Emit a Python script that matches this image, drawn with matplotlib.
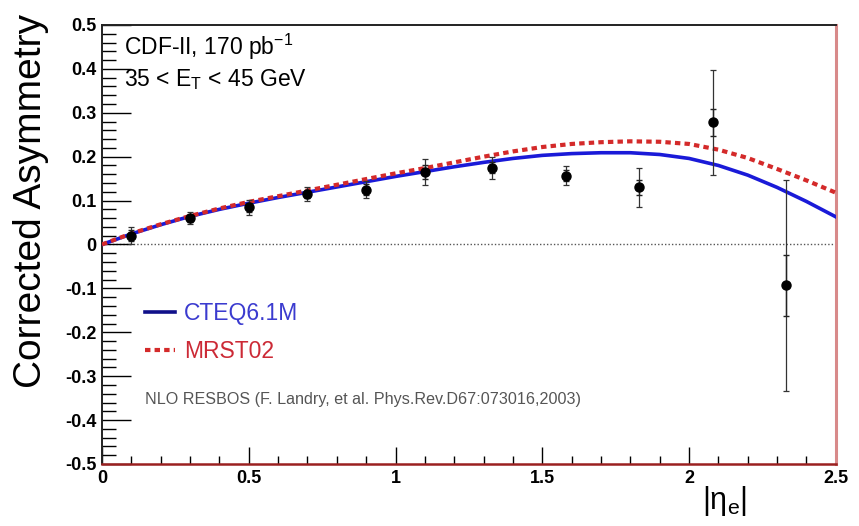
import numpy as np
import matplotlib
matplotlib.use('Agg')
import matplotlib.pyplot as plt
from matplotlib.ticker import MultipleLocator

# measured asymmetry, 35 < ET < 45 GeV
eta = [0.10, 0.30, 0.50, 0.70, 0.90, 1.10, 1.33, 1.58, 1.83, 2.08, 2.33]
asym = [0.020, 0.060, 0.085, 0.115, 0.125, 0.165, 0.175, 0.157, 0.130, 0.278, -0.093]
err_tot = [0.020, 0.013, 0.017, 0.016, 0.020, 0.030, 0.025, 0.022, 0.045, 0.120, 0.240]
err_stat = [0.012, 0.008, 0.010, 0.010, 0.012, 0.015, 0.012, 0.012, 0.017, 0.030, 0.070]

# NLO RESBOS predictions
eta_th = [0.0, 0.1, 0.2, 0.3, 0.4, 0.5, 0.6, 0.7, 0.8, 0.9, 1.0, 1.1, 1.2,
          1.3, 1.4, 1.5, 1.6, 1.7, 1.8, 1.9, 2.0, 2.1, 2.2, 2.3, 2.4, 2.5]
cteq = [0.0, 0.024, 0.045, 0.064, 0.080, 0.094, 0.107, 0.119, 0.131, 0.143,
        0.155, 0.166, 0.177, 0.187, 0.196, 0.203, 0.207, 0.209, 0.209, 0.205,
        0.196, 0.180, 0.158, 0.130, 0.098, 0.063]
mrst = [0.0, 0.025, 0.046, 0.065, 0.082, 0.097, 0.110, 0.123, 0.136, 0.149,
        0.162, 0.174, 0.187, 0.200, 0.212, 0.222, 0.229, 0.233, 0.235, 0.234,
        0.229, 0.216, 0.197, 0.172, 0.146, 0.118]

narrow = ['Liberation Sans Narrow', 'Liberation Sans', 'DejaVu Sans']

fig = plt.figure(figsize=(8.59, 5.26), dpi=100)
ax = fig.add_axes([0.1187, 0.1179, 0.973 - 0.1187, 0.9525 - 0.1179])

ax.axhline(0, color='#555555', lw=1, ls=(0, (1, 1.5)), zorder=1)

l1, = ax.plot(eta_th, cteq, color='#1a1ad8', lw=2.6, zorder=3)
l2, = ax.plot(eta_th, mrst, color='#d42a2a', lw=3, ls=(0, (1.3, 1.0)), zorder=3)

ax.errorbar(eta, asym, yerr=err_tot, fmt='none', ecolor='#333333',
            elinewidth=0.9, capsize=2.5, capthick=0.9, zorder=4)
ax.errorbar(eta, asym, yerr=err_stat, fmt='o', color='black', ms=6.5,
            ecolor='#222222', elinewidth=1.0, capsize=2.5, capthick=1.0, zorder=5)

ax.set_xlim(0, 2.5)
ax.set_ylim(-0.5, 0.5)
ax.xaxis.set_minor_locator(MultipleLocator(0.1))
ax.yaxis.set_minor_locator(MultipleLocator(0.02))
ax.tick_params(axis='y', which='major', direction='in', length=21, width=1,
               left=True, right=False, pad=4)
ax.tick_params(axis='y', which='minor', direction='in', length=10, width=1,
               left=True, right=False)
ax.tick_params(axis='x', which='major', direction='in', length=12, width=1,
               top=False, pad=4)
ax.tick_params(axis='x', which='minor', direction='in', length=6, width=1,
               top=False)

def fmt(v):
    s = ('%.1f' % v).rstrip('0').rstrip('.')
    return '0' if s in ('0', '-0') else s

xt = np.arange(0, 2.51, 0.5)
yt = np.arange(-0.5, 0.51, 0.1)
ax.set_xticks(xt)
ax.set_xticklabels([fmt(v) for v in xt], family=narrow, fontweight='bold', fontsize=13)
ax.set_yticks(yt)
ax.set_yticklabels([fmt(v) for v in yt], family=narrow, fontweight='bold', fontsize=13)

for s in ['top', 'left']:
    ax.spines[s].set_color('#222222')
    ax.spines[s].set_linewidth(1.4)
ax.spines['bottom'].set_color('#9a2020')
ax.spines['bottom'].set_linewidth(1.8)
ax.spines['right'].set_color('#d88a8a')
ax.spines['right'].set_linewidth(2.2)

ax.set_ylabel('Corrected Asymmetry', family=['Liberation Sans', 'DejaVu Sans'],
              fontsize=28)
ax.yaxis.set_label_coords(-0.072, 0.60)
ax.text(2.12, -0.585, r'|η$_{\mathregular{e}}$|', fontsize=22, ha='center', va='center',
        family=['Liberation Sans', 'DejaVu Sans'], clip_on=False)

ax.text(0.03, 0.985, r'CDF-II, 170 pb$^{\mathregular{-1}}$', transform=ax.transAxes,
        family=narrow, fontsize=16.5, va='top', ha='left')
ax.text(0.03, 0.905, r'35 < E$_{\mathregular{T}}$ < 45 GeV', transform=ax.transAxes,
        family=narrow, fontsize=16.5, va='top', ha='left')

leg = ax.legend([l1, l2], ['CTEQ6.1M', 'MRST02'], loc='upper left',
                bbox_to_anchor=(0.031, 0.415), frameon=False, handlelength=1.3,
                handletextpad=0.4, labelspacing=0.62,
                prop={'family': narrow, 'size': 16.5})
leg.get_texts()[0].set_color('#3b3bcf')
leg.get_texts()[1].set_color('#cc2a36')
leg.get_lines()[0].set_color('#10108a')

ax.text(0.058, 0.146, 'NLO RESBOS (F. Landry, et al. Phys.Rev.D67:073016,2003)',
        transform=ax.transAxes, family=narrow, fontsize=11.6, color='#555555',
        va='center', ha='left')

fig.savefig('out.png', dpi=100)
